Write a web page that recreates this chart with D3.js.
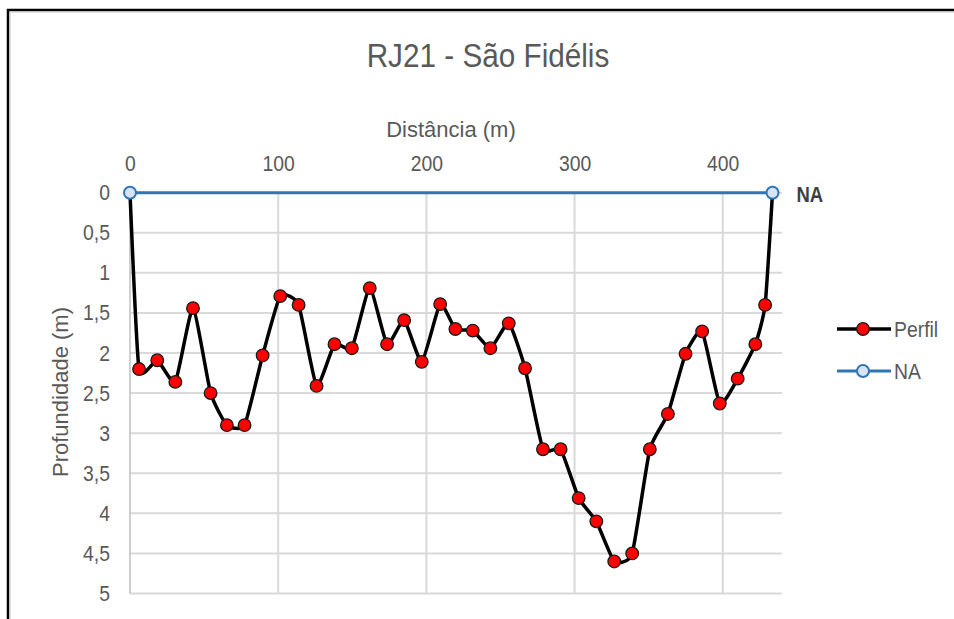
<!DOCTYPE html>
<html>
<head>
<meta charset="utf-8">
<script src="https://cdn.jsdelivr.net/npm/d3@7"></script>
<style>
  body { margin: 0; background: #fff; }
  text { font-family: "Liberation Sans", Arial, sans-serif; }
</style>
</head>
<body>
<script>
// profile data: distance (m) and depth (m)
var distancia = [0, 6.1, 18.4, 30.6, 42.5, 54.4, 65.4, 77.3, 89.5, 101.4, 113.8, 125.9, 138, 149.7, 161.8, 173.5, 185, 196.9, 209.3, 219.6, 231.3, 243.2, 255.6, 266.6, 278.7, 290.6, 302.8, 314.7, 326.8, 338.9, 350.8, 363, 374.9, 386.1, 398, 410.1, 422, 428.6, 433.6];
var profundidade = [0, 2.20, 2.09, 2.36, 1.44, 2.50, 2.90, 2.90, 2.03, 1.29, 1.40, 2.41, 1.89, 1.94, 1.19, 1.89, 1.59, 2.11, 1.39, 1.70, 1.72, 1.94, 1.63, 2.19, 3.20, 3.20, 3.81, 4.10, 4.60, 4.50, 3.20, 2.76, 2.01, 1.73, 2.63, 2.32, 1.89, 1.40, 0];
var naDistancia = [0, 433.6];
var naProfundidade = [0, 0];
var xTicks = [0, 100, 200, 300, 400];
var yTicks = [0, 0.5, 1, 1.5, 2, 2.5, 3, 3.5, 4, 4.5, 5];
var seriesNames = ["Perfil", "NA"];

var W = 954, H = 619;
var svg = d3.select("body").append("svg").attr("width", W).attr("height", H);

// squeeze text a bit, the original font is narrower than Liberation Sans
function condense(sel, k) {
  sel.each(function() {
    var w = this.getComputedTextLength();
    d3.select(this).attr("textLength", w * k).attr("lengthAdjust", "spacingAndGlyphs");
  });
}

// chart border (runs off the right and bottom of the picture)
svg.append("rect")
  .attr("x", 8).attr("y", 10).attr("width", 1000).attr("height", 700)
  .attr("fill", "#fff").attr("stroke", "#000").attr("stroke-width", 2.5);
svg.append("path").attr("d", "M10.5,620V12.5H960")
  .attr("fill", "none").attr("stroke", "#e0e0e0").attr("stroke-width", 1);

var x = d3.scaleLinear().domain([0, 440]).range([130, 782]);
var y = d3.scaleLinear().domain([0, 5]).range([192.7, 593.5]);

// gridlines
var grid = svg.append("g");
grid.selectAll("line.h").data(yTicks).join("line")
  .attr("x1", x(0)).attr("x2", x(440))
  .attr("y1", function(d) { return y(d) }).attr("y2", function(d) { return y(d) })
  .attr("stroke", "#d9d9d9").attr("stroke-width", 2);
grid.selectAll("line.v").data(xTicks.slice(1)).join("line")
  .attr("x1", function(d) { return x(d) }).attr("x2", function(d) { return x(d) })
  .attr("y1", y(0)).attr("y2", y(5))
  .attr("stroke", "#d9d9d9").attr("stroke-width", 2);
svg.append("line")
  .attr("x1", x(0)).attr("x2", x(0)).attr("y1", y(0)).attr("y2", y(5))
  .attr("stroke", "#bfbfbf").attr("stroke-width", 1.5);

// axes
var xAxis = svg.append("g").attr("transform", "translate(0," + y(0) + ")")
  .call(d3.axisTop(x).tickValues(xTicks).tickSize(0).tickPadding(22));
var yAxis = svg.append("g").attr("transform", "translate(" + x(0) + ",0)")
  .call(d3.axisLeft(y).tickValues(yTicks).tickSize(0).tickPadding(20)
    .tickFormat(function(d) { return String(d).replace(".", ",") }));
[xAxis, yAxis].forEach(function(a) {
  a.select(".domain").remove();
  a.selectAll("text").attr("font-size", 22).attr("fill", "#595959")
    .style("font-family", "'Liberation Sans', Arial, sans-serif")
    .call(condense, 0.88);
});

// titles
svg.append("text").attr("x", 488).attr("y", 67).attr("text-anchor", "middle")
  .attr("font-size", 33).attr("fill", "#595959").text("RJ21 - São Fidélis")
  .call(condense, 0.9);
svg.append("text").attr("x", 451).attr("y", 137).attr("text-anchor", "middle")
  .attr("font-size", 22).attr("fill", "#595959").text("Distância (m)");
svg.append("text").attr("transform", "translate(68,392) rotate(-90)").attr("text-anchor", "middle")
  .attr("font-size", 22).attr("fill", "#595959").text("Profundidade (m)");

// perfil line
var perfil = distancia.map(function(d, i) { return {x: d, y: profundidade[i]} });
var lineFunc = d3.line()
  .x(function(d) { return x(d.x) })
  .y(function(d) { return y(d.y) })
  .curve(d3.curveCardinal.tension(0.5));
svg.append("path").attr("d", lineFunc(perfil))
  .attr("fill", "none").attr("stroke", "#000").attr("stroke-width", 3.5);
svg.selectAll("circle.p").data(perfil.filter(function(d) { return d.y > 0 })).join("circle")
  .attr("cx", function(d) { return x(d.x) }).attr("cy", function(d) { return y(d.y) })
  .attr("r", 6.3).attr("fill", "#ff0000").attr("stroke", "#1a1a1a").attr("stroke-width", 1.3);

// NA line
var na = naDistancia.map(function(d, i) { return {x: d, y: naProfundidade[i]} });
svg.append("path").attr("d", d3.line().x(function(d) { return x(d.x) }).y(function(d) { return y(d.y) })(na))
  .attr("fill", "none").attr("stroke", "#2e75b6").attr("stroke-width", 3);
svg.selectAll("circle.na").data(na).join("circle")
  .attr("cx", function(d) { return x(d.x) }).attr("cy", function(d) { return y(d.y) })
  .attr("r", 6).attr("fill", "#dae3f3").attr("stroke", "#2e75b6").attr("stroke-width", 2);
svg.append("text").attr("x", x(naDistancia[1]) + 24).attr("y", y(0) + 9)
  .attr("font-size", 22).attr("font-weight", "bold").attr("fill", "#404040").text("NA")
  .call(condense, 0.84);

// legend
var legend = svg.selectAll("g.leg").data(seriesNames).join("g")
  .attr("transform", function(d, i) { return "translate(837," + (329 + i * 42) + ")" });
legend.append("line").attr("x1", 0).attr("x2", 54)
  .attr("stroke", function(d, i) { return i === 0 ? "#000" : "#2e75b6" })
  .attr("stroke-width", function(d, i) { return i === 0 ? 3.5 : 3 });
legend.append("circle").attr("cx", 26).attr("r", function(d, i) { return i === 0 ? 6.3 : 6 })
  .attr("fill", function(d, i) { return i === 0 ? "#ff0000" : "#dae3f3" })
  .attr("stroke", function(d, i) { return i === 0 ? "#1a1a1a" : "#2e75b6" })
  .attr("stroke-width", function(d, i) { return i === 0 ? 1.3 : 2 });
legend.append("text").attr("x", 57).attr("y", 8)
  .attr("font-size", 22).attr("fill", "#595959").text(function(d) { return d })
  .call(condense, 0.88);
</script>
</body>
</html>
